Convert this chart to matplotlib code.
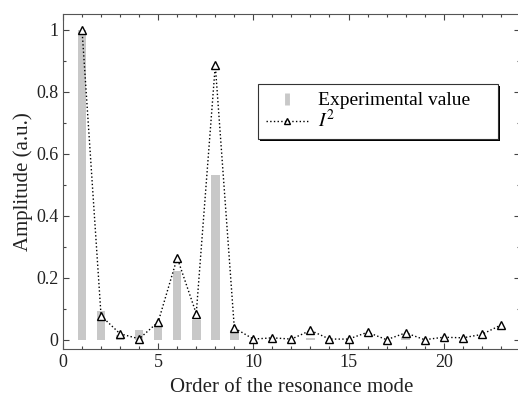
import numpy as np
import matplotlib
matplotlib.use("Agg")
import matplotlib.pyplot as plt
import matplotlib.patheffects as pe
from matplotlib.lines import Line2D
from matplotlib.ticker import MultipleLocator, FormatStrFormatter

plt.rcParams['font.family'] = ['Liberation Serif', 'DejaVu Serif']
plt.rcParams['mathtext.fontset'] = 'stix'

# Data
modes = np.arange(1, 24)
experimental = [1.0, 0.094, 0.015, 0.03, 0.045, 0.22, 0.065, 0.53, 0.032, 0.0,
                0.0, 0.0, 0.004, 0.0, 0.0, 0.0, 0.0, 0.008, 0.0, 0.0,
                0.0, 0.0, 0.0]
i_squared = [1.0, 0.077, 0.019, 0.003, 0.057, 0.264, 0.084, 0.885, 0.038, 0.002,
             0.006, 0.002, 0.03, 0.002, 0.002, 0.024, 0.0, 0.022, 0.0, 0.008,
             0.006, 0.017, 0.047]

fig = plt.figure(figsize=(5.18, 3.98), dpi=100)
ax = fig.add_axes([0.1216, 0.1231, 0.882, 0.8417])

bar_color = '#c8c8c8'
ax.bar(modes, experimental, width=0.45, color=bar_color, zorder=1)
ax.plot(modes, i_squared, linestyle=':', color='black', linewidth=1,
        marker='^', markersize=6, markerfacecolor='white',
        markeredgecolor='black', markeredgewidth=1, zorder=2)

ax.set_xlim(0, 24)
ax.set_ylim(-0.03, 1.05)
ax.xaxis.set_major_locator(MultipleLocator(5))
ax.xaxis.set_minor_locator(MultipleLocator(1))
ax.yaxis.set_major_locator(MultipleLocator(0.2))
ax.yaxis.set_minor_locator(MultipleLocator(0.1))
ax.yaxis.set_major_formatter(FormatStrFormatter('%g'))
ax.tick_params(which='both', direction='in', top=True, right=True,
               color='#444444', labelsize=13, labelcolor='#222222')
ax.tick_params(which='major', length=4, width=0.8)
ax.tick_params(which='minor', length=2.5, width=0.8)
for s in ax.spines.values():
    s.set_color('#555555')
    s.set_linewidth(0.8)

ax.set_xlabel('Order of the resonance mode', fontsize=15, color='#222222', labelpad=5)
ax.set_ylabel('Amplitude (a.u.)', fontsize=15, color='#222222', labelpad=2)

handles = [
    Line2D([], [], linestyle='none', marker='|', markersize=9,
           markeredgewidth=3.5, color=bar_color),
    Line2D([], [], linestyle=':', color='black', linewidth=1, marker='^',
           markersize=5, markerfacecolor='white', markeredgecolor='black'),
]
leg = ax.legend(handles, ['Experimental value    ', r'$I^2$'],
                loc='upper left', bbox_to_anchor=(0.427, 0.791),
                fontsize=14, frameon=True, fancybox=False, shadow=False,
                framealpha=1, handlelength=2.2, handletextpad=0.5,
                labelspacing=0.0, borderpad=0.4, borderaxespad=0)
frame = leg.get_frame()
frame.set_facecolor('white')
frame.set_edgecolor('#333333')
frame.set_linewidth(0.8)
frame.set_path_effects([pe.SimplePatchShadow(offset=(1.3, -1.3), shadow_rgbFace='black', alpha=1),
                        pe.Normal()])

fig.savefig('out.png', dpi=100)
